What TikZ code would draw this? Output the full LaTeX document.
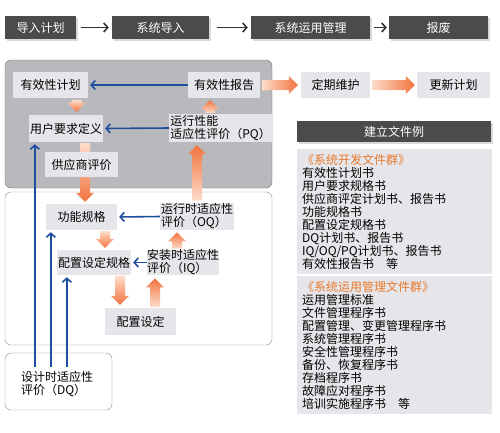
\documentclass[tikz,border=0pt]{standalone}
\usepackage{fontspec}
\setmainfont{Noto Sans CJK SC}
\usetikzlibrary{arrows.meta,calc,shadows}

\definecolor{barbg}{HTML}{4B4B4B}
\definecolor{panelgray}{HTML}{B9B9BD}
\definecolor{boxgray}{HTML}{E6E6EA}
\definecolor{lineblue}{HTML}{1F4E9E}
\definecolor{orlight}{HTML}{FDDCC8}
\definecolor{ordark}{HTML}{F2733F}
\definecolor{titleorange}{HTML}{E8782A}

\pgfdeclarelayer{back}
\pgfdeclarelayer{arr}
\pgfsetlayers{back,arr,main}

% fat orange arrow: shading, tail, head
\newcommand{\orarrow}[3]{%
  \coordinate (oh) at ($(#3)!9pt!(#2)$);
  \shade[#1] ($(#2)!5pt!90:(#3)$) -- ($(oh)!5pt!90:(#3)$) -- ($(oh)!9pt!90:(#3)$) -- (#3)
    -- ($(oh)!9pt!-90:(#3)$) -- ($(oh)!5pt!-90:(#3)$) -- ($(#2)!5pt!-90:(#3)$) -- cycle;
}

\begin{document}
\begin{tikzpicture}[x=1pt,y=-1pt,font=\fontsize{12}{13}\selectfont,
  topbox/.style={fill=barbg,text=white,minimum height=23pt,inner sep=0pt,
    drop shadow={shadow xshift=1.5pt,shadow yshift=-1.5pt,opacity=.3}},
  gbox/.style={fill=boxgray,inner sep=1pt,minimum height=26pt},
  docbox/.style={fill=boxgray,text width=185pt,align=left,inner sep=5pt,anchor=north west},
  toparr/.style={draw=black!80,line width=1.6pt,-{Straight Barb[length=4pt,width=9pt]},
    shorten <=5pt,shorten >=3pt},
  bluearr/.style={draw=lineblue,line width=1.6pt,-{Straight Barb[length=4pt,width=9pt]},
    shorten >=2pt},
  oright/.style={left color=orlight,right color=ordark},
  odown/.style={top color=orlight,bottom color=ordark},
  oup/.style={top color=ordark,bottom color=orlight}]

\useasboundingbox (0,0) rectangle (500,432);

% top row
\node[topbox,minimum width=71pt] (drjh) at (40.5,27.5) {导入计划};
\node[topbox,minimum width=97pt] (xtdr) at (160.5,27.5) {系统导入};
\node[topbox,minimum width=119pt] (xtyy) at (310.5,27.5) {系统运用管理};
\node[topbox,minimum width=99pt] (bf) at (438.5,27.5) {报废};
\draw[toparr] (drjh) -- (xtdr);
\draw[toparr,shorten <=8pt] (xtdr) -- (xtyy);
\draw[toparr,shorten <=4pt,shorten >=2pt] (xtyy) -- (bf);

% panels
\begin{pgfonlayer}{back}
  \draw[draw=black!55,fill=panelgray,rounded corners=6pt] (5,60) rectangle (272,188);
  \draw[draw=black!45,fill=white,rounded corners=6pt] (5,192) rectangle (272,345);
  \draw[draw=black!45,fill=white,rounded corners=6pt] (5,353) rectangle (112,410);
\end{pgfonlayer}

% steps
\node[gbox,minimum width=75pt] (yxjh) at (50.5,85) {有效性计划};
\node[gbox,minimum width=72pt] (yxbg) at (224,85) {有效性报告};
\node[gbox,minimum width=74pt,minimum height=27pt] (yhdy) at (66,128.5) {用户要求定义};
\node[gbox,minimum width=95pt,minimum height=28pt,align=left] (pq) at (220.5,128) {运行性能\\适应性评价（PQ）};
\node[gbox,minimum width=73pt,minimum height=25pt] (gyspj) at (81.5,164.5) {供应商评价};
\node[gbox,minimum width=71pt] (gngg) at (81.5,217) {功能规格};
\node[gbox,minimum width=70pt,minimum height=27pt,align=left] (oq) at (197,216.5) {运行时适应性\\评价（OQ）};
\node[gbox,minimum width=72pt,minimum height=25pt] (pzgg) at (94,262.5) {配置设定规格};
\node[gbox,minimum width=70pt,minimum height=25pt,inner sep=0pt,align=left] (iq) at (183,262.5) {安装时适应性\\评价（IQ）};
\node[gbox,minimum width=71pt,minimum height=27pt] (pzsd) at (140.5,321.5) {配置设定};
\node[align=left,inner sep=0pt] (dq) at (57,384.5) {设计时适应性\\评价（DQ）};
\node[gbox,minimum width=69pt] (dqwh) at (335.5,85) {定期维护};
\node[gbox,minimum width=73pt] (gxjh) at (453.5,85) {更新计划};

% documents
\node[topbox,minimum width=194pt,minimum height=21pt] (jlwj) at (394,131.5) {建立文件例};
\node[docbox,minimum height=121pt] (xtkf) at (297,149) {%
  {\color{titleorange}《系统开发文件群》}\\
  有效性计划书\\
  用户要求规格书\\
  供应商评定计划书、报告书\\
  功能规格书\\
  配置设定规格书\\
  DQ计划书、报告书\\
  IQ/OQ/PQ计划书、报告书\\
  有效性报告书　等};
\node[docbox,minimum height=133pt] (xtyyw) at (297,276) {%
  {\color{titleorange}《系统运用管理文件群》}\\
  运用管理标准\\
  文件管理程序书\\
  配置管理、变更管理程序书\\
  系统管理程序书\\
  安全性管理程序书\\
  备份、恢复程序书\\
  存档程序书\\
  故障应对程序书\\
  培训实施程序书　等};

% orange arrows
\coordinate (o1a) at ($(yxbg.east)+(2,0)$);
\coordinate (o1b) at ($(dqwh.west)+(-3,0)$);
\coordinate (o2a) at ($(dqwh.east)+(2,0)$);
\coordinate (o2b) at ($(gxjh.west)+(-2,0)$);
\coordinate (o3a) at ($(yxjh.south)+(26,2)$);
\coordinate (o3b) at ($(o3a |- yhdy.north)+(0,-3)$);
\coordinate (o4a) at ($(yhdy.south)+(19,1)$);
\coordinate (o4b) at ($(o4a |- gngg.north)+(0,-2)$);
\coordinate (o5a) at ($(oq.north)+(0,-2)$);
\coordinate (o5b) at ($(o5a |- pq.south)+(0,3)$);
\coordinate (o6a) at ($(pq.north)+(-10.5,-1)$);
\coordinate (o6b) at ($(o6a |- yxbg.south)+(0,2)$);
\coordinate (o7a) at ($(gngg.south)+(23.5,1)$);
\coordinate (o7b) at ($(o7a |- pzgg.north)+(0,-2)$);
\coordinate (o8a) at ($(pzgg.south)+(26,1)$);
\coordinate (o8b) at ($(o8a |- pzsd.north)+(0,-3)$);
\coordinate (o9a) at ($(pzsd.north)+(14.5,-1)$);
\coordinate (o9b) at ($(o9a |- iq.south)+(0,3)$);
\coordinate (o10a) at ($(iq.north)+(-6,-1)$);
\coordinate (o10b) at ($(o10a |- oq.south)+(0,2)$);
\begin{pgfonlayer}{arr}
  \orarrow{oright}{o1a}{o1b}
  \orarrow{oright}{o2a}{o2b}
  \orarrow{odown}{o3a}{o3b}
  \orarrow{odown}{o4a}{o4b}
  \orarrow{oup}{o5a}{o5b}
  \orarrow{oup}{o6a}{o6b}
  \orarrow{odown}{o7a}{o7b}
  \orarrow{odown}{o8a}{o8b}
  \orarrow{oup}{o9a}{o9b}
  \orarrow{oup}{o10a}{o10b}
\end{pgfonlayer}

% blue arrows
\draw[bluearr] (yxbg) -- (yxjh);
\draw[bluearr] (pq.west) -- (yhdy.east);
\draw[bluearr] (oq.west) -- (gngg.east);
\draw[bluearr] (iq.west) -- (pzgg.east);
\coordinate (dq1) at ($(dq.north west)+(14,-5)$);
\coordinate (dq2) at ($(dq.north west)+(30,-5)$);
\coordinate (dq3) at ($(dq.north west)+(46,-5)$);
\draw[bluearr] (dq1) -- (dq1 |- yhdy.south);
\draw[bluearr] (dq2) -- (dq2 |- gngg.south);
\draw[bluearr] (dq3) -- (dq3 |- pzgg.south);

\end{tikzpicture}
\end{document}
